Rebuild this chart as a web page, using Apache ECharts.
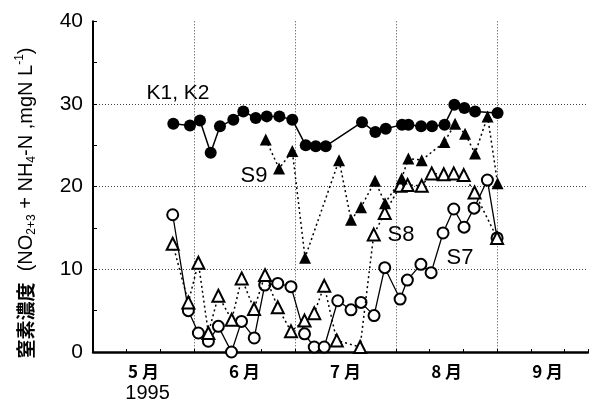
<!DOCTYPE html>
<html><head><meta charset="utf-8">
<script src="https://cdn.jsdelivr.net/npm/echarts@6/dist/echarts.min.js"></script>
<style>html,body{margin:0;padding:0;background:#fff}#c{width:589px;height:407px}</style>
</head><body><div id="c"></div>
<script>
// Month tick labels (placed at mid-month) and year
const monthLabels = ['5 月', '6 月', '7 月', '8 月', '9 月'];
const yearLabel = '1995';
// x values: months elapsed since 1 May 1995
const xK = [0.795,0.960,1.059,1.165,1.257,1.389,1.488,1.611,1.720,1.845,1.973,2.106,2.205,2.304,2.663,2.795,2.898,3.059,3.122,3.248,3.356,3.480,3.577,3.676,3.782,4.005];
const yK = [27.6,27.4,28.0,24.1,27.3,28.1,29.1,28.3,28.5,28.5,28.1,25.0,24.9,24.9,27.8,26.6,27.0,27.5,27.5,27.3,27.3,27.5,29.9,29.5,29.1,28.9];
const xS9 = [1.710,1.842,1.973,2.099,2.436,2.554,2.653,2.792,2.891,3.056,3.122,3.254,3.478,3.584,3.683,3.782,3.906,4.005];
const yS9 = [25.7,22.2,24.3,11.4,23.2,16.0,17.5,20.7,18.0,21.0,23.4,23.2,25.4,27.6,26.4,24.0,28.5,20.4];
const xS7 = [0.789,0.944,1.043,1.142,1.241,1.371,1.470,1.596,1.700,1.829,1.960,2.094,2.190,2.289,2.423,2.554,2.653,2.782,2.888,3.040,3.112,3.246,3.347,3.465,3.571,3.673,3.772,3.904,4.000];
const yS7 = [16.6,5.0,2.3,1.3,3.1,0.0,3.7,1.7,8.1,8.3,7.9,2.2,0.6,0.6,6.2,5.1,6.0,4.4,10.2,6.4,8.7,10.6,9.6,14.4,17.3,15.1,17.4,20.8,13.8];
const xS8 = [0.789,0.944,1.043,1.142,1.241,1.373,1.472,1.594,1.703,1.829,1.960,2.094,2.190,2.289,2.413,2.644,2.779,2.888,3.043,3.114,3.254,3.353,3.472,3.571,3.670,3.777,4.000];
const yS8 = [13.1,6.0,10.8,2.3,6.8,3.9,8.9,5.2,9.3,5.4,2.5,3.8,4.7,8.0,1.4,0.6,14.2,16.8,20.1,20.2,20.1,21.6,21.5,21.6,21.4,19.3,13.8];
const seriesNames = ['K1, K2', 'S9', 'S8', 'S7'];

const zip = (xs, ys) => xs.map((x, i) => [x, ys[i]]);
const FONT = '"Liberation Sans", Arial, sans-serif';
const CJK = '"Noto Sans CJK JP", "Noto Sans CJK SC", sans-serif';
const XMAX = 4.9;
const dotted = { color: '#444', type: [1, 2], width: 1 };

const chart = echarts.init(document.getElementById('c'), null, { renderer: 'canvas' });
chart.setOption({
  animation: false,
  backgroundColor: '#fff',
  grid: { left: 93, right: 1, top: 21.3, bottom: 55, containLabel: false, outerBoundsMode: 'none' },
  xAxis: [
    { type: 'value', position: 'bottom', min: 0, max: XMAX, interval: 1 / 3,
      axisLine: { show: true, lineStyle: { color: '#000', width: 2.5 } },
      axisTick: { show: true, inside: true, length: 3, lineStyle: { color: '#000', width: 1 } },
      axisLabel: { show: false }, splitLine: { show: false } },
    { type: 'value', position: 'bottom', min: 0, max: XMAX, interval: 1,
      axisLine: { show: false }, axisTick: { show: false }, axisLabel: { show: false },
      splitLine: { show: true, showMinLine: false, showMaxLine: false, lineStyle: dotted } },
    { type: 'value', position: 'bottom', min: 0, max: XMAX, interval: 0.5,
      axisLine: { show: false }, axisTick: { show: false }, splitLine: { show: false },
      axisLabel: { show: true, margin: 11, color: '#000', fontFamily: CJK, fontSize: 17, fontWeight: 'bold',
        showMinLabel: true, showMaxLabel: true,
        formatter: function (v) {
          const k = Math.round(v * 2);
          if (k % 2 !== 1) return '';
          const idx = (k - 1) / 2;
          if (idx === 0) return monthLabels[0] + '\n{yr|' + yearLabel + '}';
          return monthLabels[idx] || '';
        },
        rich: { yr: { fontFamily: FONT, fontSize: 20, fontWeight: 'normal', color: '#000', lineHeight: 27, padding: [0, 0, 0, 8] } } } }
  ],
  yAxis: [
    { type: 'value', position: 'left', min: 0, max: 40, interval: 5,
      axisLine: { show: true, lineStyle: { color: '#000', width: 2 } },
      axisTick: { show: true, inside: true, length: 4, lineStyle: { color: '#000', width: 1 } },
      axisLabel: { margin: 10, color: '#000', fontFamily: FONT, fontSize: 21,
        formatter: v => (v % 10 === 0 ? String(v) : '') },
      splitLine: { show: false } },
    { type: 'value', position: 'left', min: 0, max: 40, interval: 10,
      axisLine: { show: false }, axisTick: { show: false }, axisLabel: { show: false },
      splitLine: { show: true, showMinLine: false, showMaxLine: false, lineStyle: dotted } }
  ],
  graphic: [
    { type: 'text', x: 26, y: 203, rotation: Math.PI / 2, silent: true,
      style: { text: '{cjk|窒素濃度}{t|  (NO}{sub|2+3}{t| + NH}{sub|4}{t|-N ,mgN L}{sup|-1}{t|)}',
        align: 'center', verticalAlign: 'middle', fill: '#000',
        rich: {
          cjk: { fontFamily: CJK, fontWeight: 'bold', fontSize: 19, lineHeight: 24, verticalAlign: 'middle' },
          t: { fontFamily: FONT, fontSize: 20, lineHeight: 24, verticalAlign: 'middle' },
          sub: { fontFamily: FONT, fontSize: 12, verticalAlign: 'bottom' },
          sup: { fontFamily: FONT, fontSize: 12, verticalAlign: 'top' }
        } } },
    { type: 'text', x: 178, y: 93, silent: true, style: { text: seriesNames[0], fontFamily: FONT, fontSize: 21, fill: '#000', align: 'center', verticalAlign: 'middle' } },
    { type: 'text', x: 254, y: 176, silent: true, style: { text: seriesNames[1], fontFamily: FONT, fontSize: 22, fill: '#000', align: 'center', verticalAlign: 'middle' } },
    { type: 'text', x: 401, y: 235, silent: true, style: { text: seriesNames[2], fontFamily: FONT, fontSize: 22, fill: '#000', align: 'center', verticalAlign: 'middle' } },
    { type: 'text', x: 460, y: 258, silent: true, style: { text: seriesNames[3], fontFamily: FONT, fontSize: 22, fill: '#000', align: 'center', verticalAlign: 'middle' } }
  ],
  series: [
    { name: seriesNames[3], type: 'line', data: zip(xS7, yS7), symbol: 'emptyCircle', symbolSize: 11,
      itemStyle: { color: '#000', borderWidth: 1.2 }, lineStyle: { color: '#000', width: 1.3 }, z: 3 },
    { name: seriesNames[2], type: 'line', data: zip(xS8, yS8), symbol: 'emptyTriangle', symbolSize: 12,
      itemStyle: { color: '#000', borderWidth: 1.2 }, lineStyle: { color: '#000', width: 1.5, type: [2, 3] }, z: 4 },
    { name: seriesNames[1], type: 'line', data: zip(xS9, yS9), symbol: 'triangle', symbolSize: 12,
      itemStyle: { color: '#000' }, lineStyle: { color: '#000', width: 1.5, type: [2, 3] }, z: 5 },
    { name: seriesNames[0], type: 'line', data: zip(xK, yK), symbol: 'circle', symbolSize: 12,
      itemStyle: { color: '#000' }, lineStyle: { color: '#000', width: 1.5 }, z: 6 }
  ]
});
</script>
</body></html>
